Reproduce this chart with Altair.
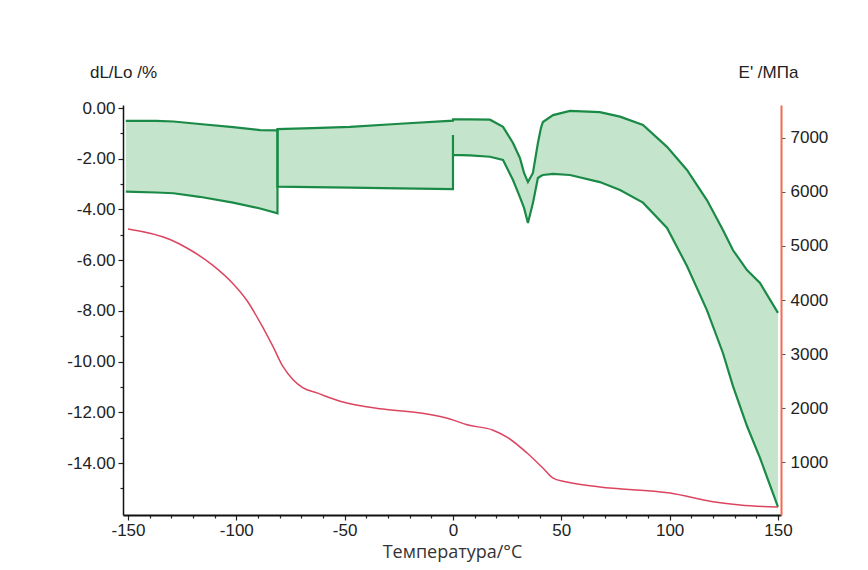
import altair as alt
import pandas as pd

# ---------------- data ----------------
# green band, segment 1 (-151 .. -81 °C), dL/Lo in %
seg1_t = [-151, -137, -129, -117, -101.5, -89, -81]
seg1_up = [-0.51, -0.51, -0.53, -0.63, -0.75, -0.87, -0.88]
seg1_lo = [-3.30, -3.33, -3.36, -3.50, -3.73, -3.96, -4.15]

# segment 2 (-81 .. 0 °C)
seg2_t = [-81, -65, -47.5, -24.5, 0]
seg2_up = [-0.83, -0.79, -0.74, -0.62, -0.50]
seg2_lo = [-3.10, -3.12, -3.14, -3.17, -3.20]

# spike of the lower curve at the 0 °C jump
jump_peak = -1.06

# segment 3 (0 .. 150 °C)
seg3_t = [0.0, 7.8, 17.1, 23.1, 27.7, 30.9, 32.8, 34.6, 36.9, 39.2, 40.6, 41.5,
          46.2, 54.0, 67.8, 77.1, 87.7, 98.8, 108.0, 117.2, 124.6, 129.2,
          135.7, 141.7, 150.0]
seg3_up = [-0.45, -0.45, -0.46, -0.74, -1.38, -1.97, -2.56, -2.92, -2.56, -1.38,
           -0.79, -0.55, -0.28, -0.11, -0.16, -0.34, -0.67, -1.53, -2.44, -3.63,
           -4.81, -5.60, -6.39, -6.90, -8.08]
seg3_lo = [-1.85, -1.87, -1.92, -2.05, -2.84, -3.51, -3.94, -4.53, -3.75, -2.76,
           -2.68, -2.64, -2.60, -2.64, -2.92, -3.23, -3.73, -4.73, -6.23, -7.97,
           -9.66, -10.96, -12.54, -13.80, -15.73]

# red curve, E' in MPa
red_t = [-150, -130.6, -122.8, -110.8, -101.5, -95.1, -89.1, -83.1, -78.5, -73.8,
         -69.2, -62.8, -50.8, -32.3, -12.0, -1.4, 6.5, 18.5, 24.9, 34.2, 41.5,
         46.2, 52.6, 67.8, 100.2, 120.0, 132.5, 150]
red_e = [5315, 5120, 4963, 4640, 4300, 3990, 3590, 3140, 2770, 2525, 2375, 2280,
         2111, 1981, 1889, 1796, 1690, 1590, 1463, 1167, 889, 704, 630, 537, 426,
         265, 204, 167]

x_ticks = list(range(-150, 151, 10))
yl_ticks = list(range(-15, 1))
yr_ticks = [1000, 2000, 3000, 4000, 5000, 6000, 7000]

# ---------------- tables ----------------
band_rows = []
for s, (ts, us, ls) in enumerate([(seg1_t, seg1_up, seg1_lo),
                                  (seg2_t, seg2_up, seg2_lo),
                                  (seg3_t, seg3_up, seg3_lo)]):
    for t, u, l in zip(ts, us, ls):
        band_rows.append({"seg": s, "t": t, "up": u, "lo": l})
band = pd.DataFrame(band_rows)

path_rows = []


def add_path(name, pts):
    for i, (t, v) in enumerate(pts):
        path_rows.append({"path": name, "i": i, "t": t, "v": v})


add_path("upper", list(zip(seg1_t, seg1_up)) + list(zip(seg2_t, seg2_up)) + list(zip(seg3_t, seg3_up)))
add_path("lower1", list(zip(seg1_t, seg1_lo)) + [(seg1_t[-1], seg1_up[-1])])
add_path("lower23", [(seg2_t[0], seg2_up[0])] + list(zip(seg2_t, seg2_lo))
         + [(seg3_t[0], jump_peak)] + list(zip(seg3_t, seg3_lo)))
paths = pd.DataFrame(path_rows)

red = pd.DataFrame({"t": red_t, "e": red_e})

# ---------------- scales / axes ----------------
LBL = "Liberation Sans"
x_scale = alt.Scale(domain=[-152.3, 151.4], nice=False, zero=False)
yl_scale = alt.Scale(domain=[-16.05, 0.12], nice=False, zero=False)
yr_scale = alt.Scale(domain=[20, 7610], nice=False, zero=False)

x_axis = alt.Axis(
    values=x_ticks,
    labelExpr="datum.value % 50 === 0 ? replace(format(datum.value, 'd'), '\u2212', '-') : ''",
    tickSize={"condition": {"test": "datum.value % 50 === 0", "value": 5}, "value": 3},
    tickColor="#222", tickWidth=1.2,
    domainColor="#111", domainWidth=2,
    labelFont=LBL, labelFontSize=17, labelColor="#222", labelPadding=2,
    labelFlush=False,
    title="Температура/°C", titleFont="Open Sans", titleFontSize=18,
    titleFontWeight="normal", titleColor="#333",
    titleY=37, titleBaseline="middle", titleAlign="center",
    grid=False,
)

yl_axis = alt.Axis(
    values=yl_ticks,
    labelExpr="datum.value % 2 === 0 ? replace(format(datum.value, '.2f'), '\u2212', '-') : ''",
    tickSize={"condition": {"test": "datum.value % 2 === 0", "value": 5}, "value": 3},
    tickColor="#222", tickWidth=1.2,
    domainColor="#111", domainWidth=1.5,
    labelFont=LBL, labelFontSize=17, labelColor="#222", labelPadding=3,
    labelFlush=False,
    title="dL/Lo /%", titleFont=LBL, titleFontSize=17, titleFontWeight="normal",
    titleColor="#222", titleAngle=0, titleAlign="center", titleBaseline="middle",
    titleX=0, titleY=-33,
    grid=False,
)

yr_axis = alt.Axis(
    orient="right",
    values=yr_ticks,
    format="d",
    tickSize=4, tickColor="#555", tickWidth=1,
    domainColor="#f26a4f", domainWidth=2,
    labelFont=LBL, labelFontSize=17, labelColor="#222", labelPadding=5,
    labelFlush=False,
    title="E' /МПа", titleFont=LBL, titleFontSize=17, titleFontWeight="normal",
    titleColor="#222", titleAngle=0, titleAlign="center", titleBaseline="middle",
    titleX=-13, titleY=-33,
    grid=False,
)

# ---------------- marks ----------------
area = alt.Chart(band).mark_area(color="#c4e5cc", opacity=1).encode(
    x=alt.X("t:Q", scale=x_scale, axis=x_axis),
    y=alt.Y("up:Q", scale=yl_scale, axis=yl_axis),
    y2="lo:Q",
    detail="seg:N",
)

outline = alt.Chart(paths).mark_line(color="#1b8a47", strokeWidth=2.2).encode(
    x=alt.X("t:Q", scale=x_scale, axis=x_axis),
    y=alt.Y("v:Q", scale=yl_scale, axis=yl_axis),
    detail="path:N",
    order="i:Q",
)

left = alt.layer(area, outline)

red_line = alt.Chart(red).mark_line(color="#dc4560", strokeWidth=1.5,
                                    interpolate="monotone").encode(
    x=alt.X("t:Q", scale=x_scale, axis=x_axis),
    y=alt.Y("e:Q", scale=yr_scale, axis=yr_axis),
)

chart = alt.layer(left, red_line).resolve_scale(y="independent").properties(
    width=658,
    height=410,
    autosize=alt.AutoSizeParams(type="none"),
    padding={"left": 115, "top": 97, "right": 79, "bottom": 47},
    background="white",
).configure_view(stroke=None)

chart.save("out.html", embed_options={"renderer": "svg", "actions": False})
